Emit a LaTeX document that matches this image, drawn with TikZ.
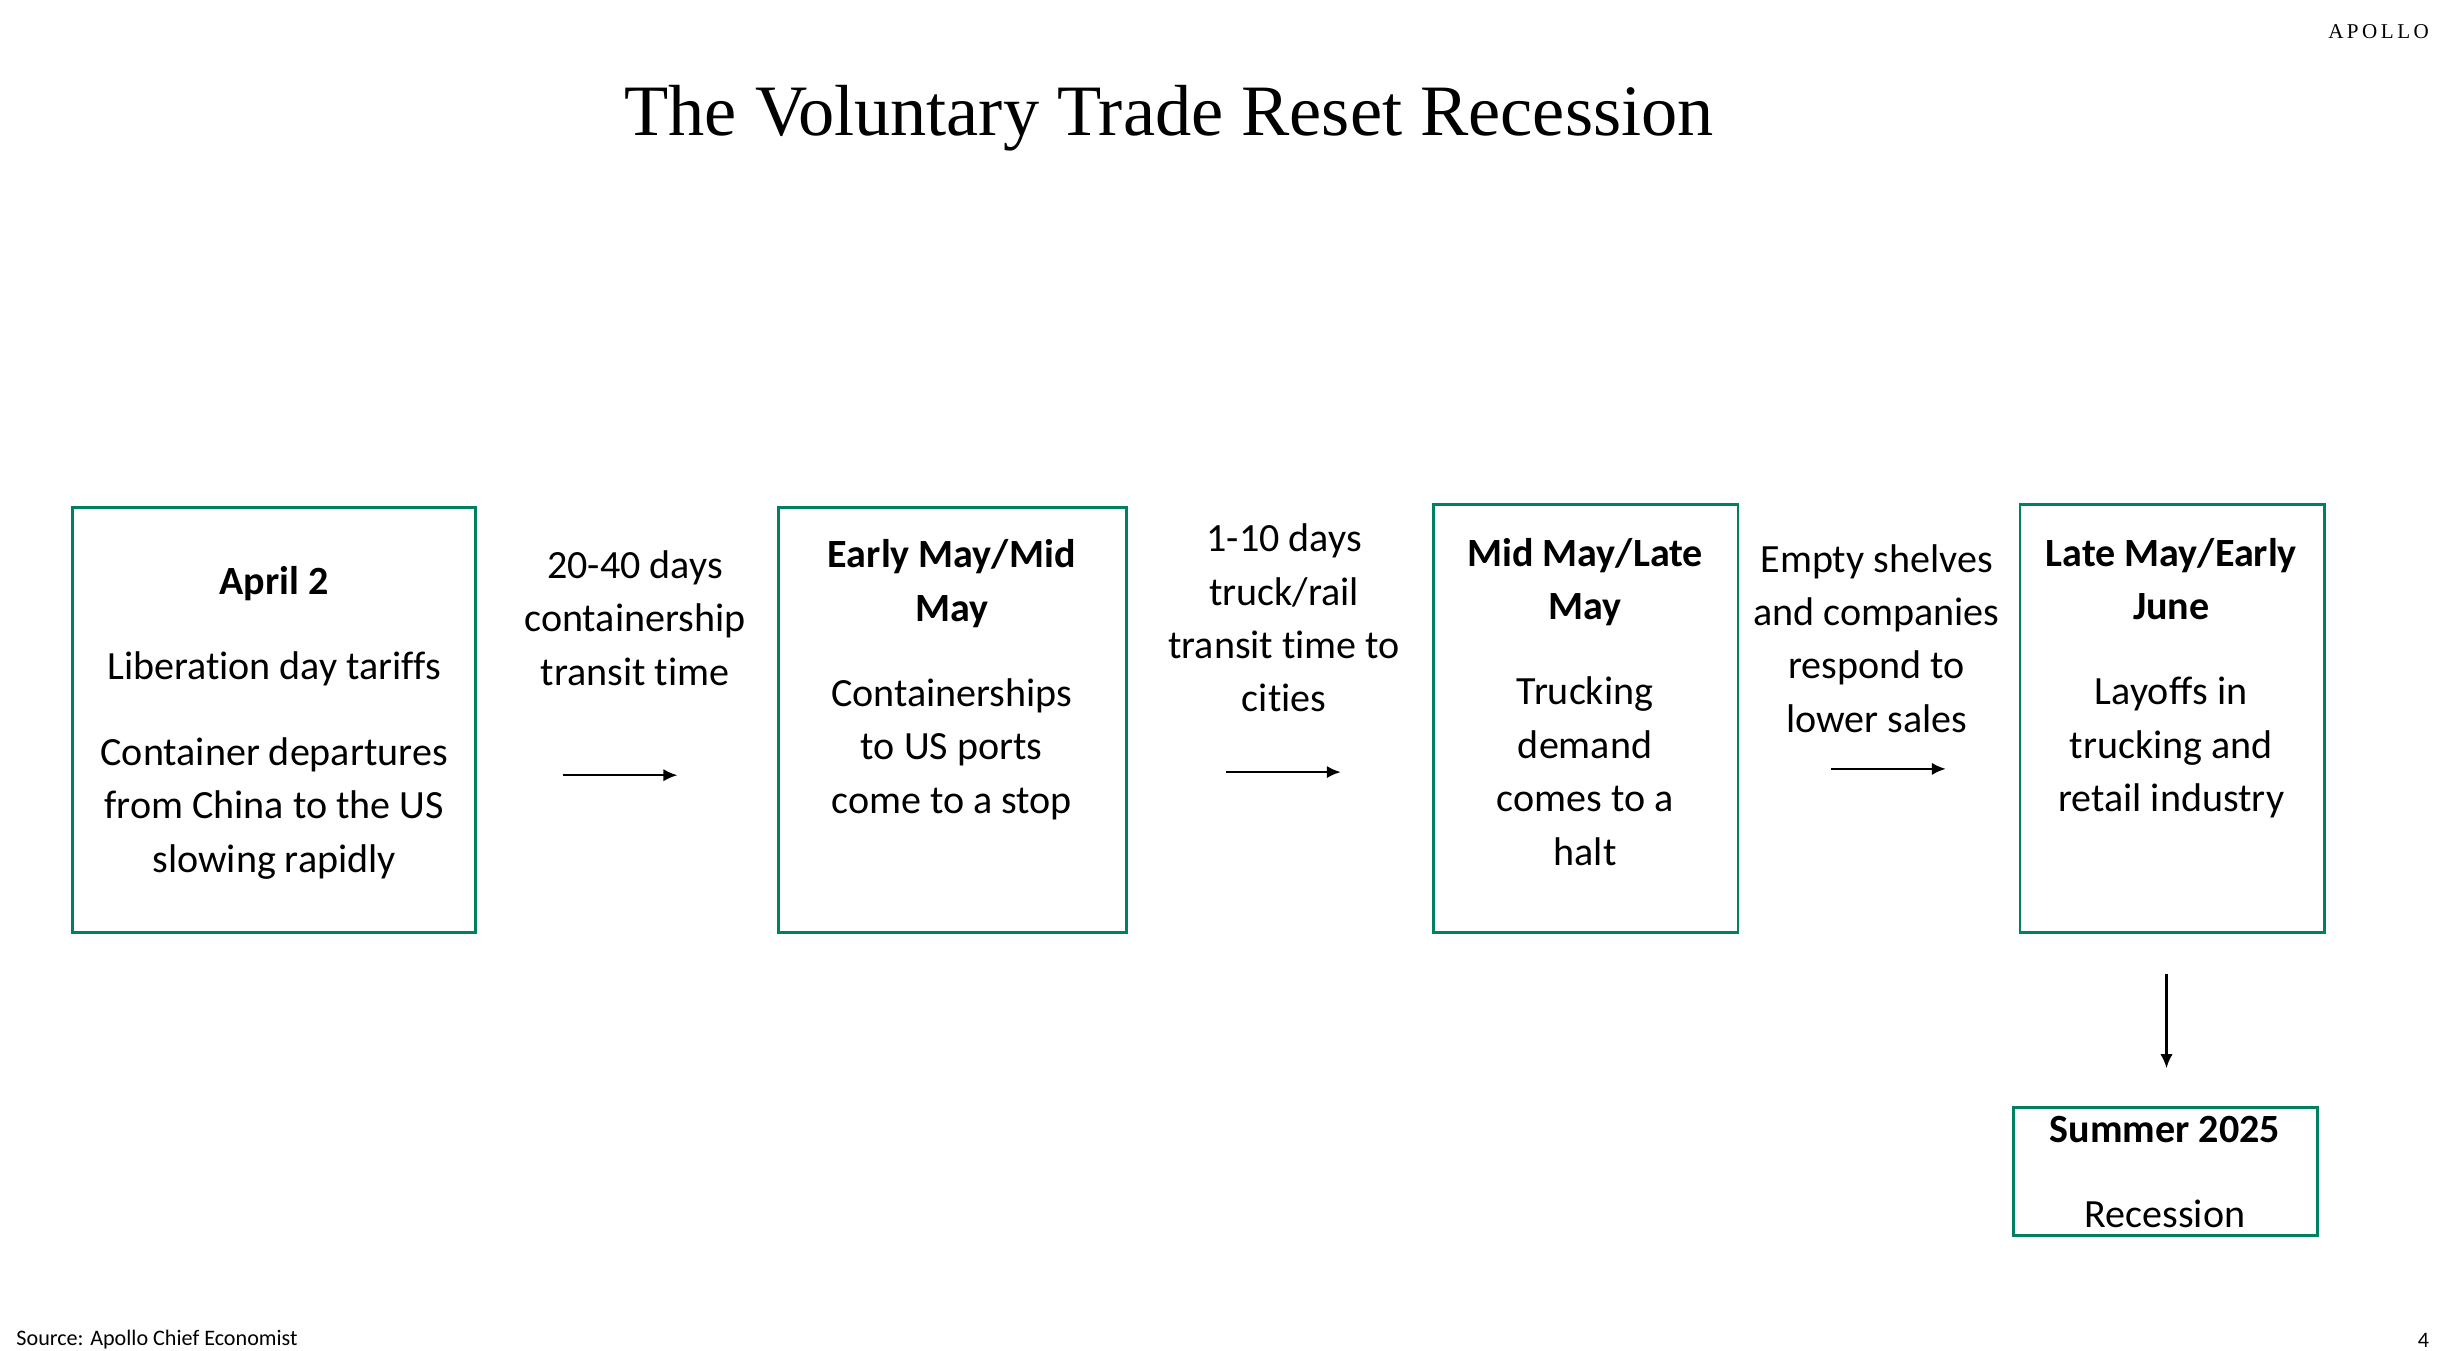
\documentclass[tikz,border=0pt]{standalone}
\usepackage{fontspec}
\setmainfont[RawFeature=-liga]{Carlito}
\newfontfamily\titlefont{Liberation Serif}
\usetikzlibrary{arrows.meta}
\definecolor{apgreen}{RGB}{0,128,96}

\begin{document}
\begin{tikzpicture}[x=0.01576cm,y=-0.01576cm,
  box/.style={draw=apgreen, line width=0.8pt},
  txt/.style={anchor=north, align=center, inner sep=0pt, font=\fontsize{11.4}{15.2}\selectfont},
  flow/.style={-{Latex[length=4pt,width=3.5pt]}, line width=0.7pt}]
\useasboundingbox (0,0) rectangle (1560,857);
\node[font=\titlefont\fontsize{20.6}{22}\selectfont] (title) at (742,75) {The Voluntary Trade Reset Recession};
\node[font=\titlefont\fontsize{6}{7}\selectfont, anchor=east, inner sep=0pt] (logo) at (1542,20) {A\,P\,O\,L\,L\,O};

% boxes
\draw[box] (46,322) rectangle (302,592);
\draw[box] (494,322) rectangle (715,592);
\draw[box] (910,320) rectangle (1103,592);
\draw[box] (1282,320) rectangle (1475,592);
\draw[box] (1278,703) rectangle (1471,784);

% box texts
\node[txt] (apr) at (174,359) {\textbf{April 2}\\[0.32cm] Liberation day tariffs\\[0.32cm] Container departures\\ from China to the US\\ slowing rapidly};
\node[txt] (may) at (604,342) {\textbf{Early May/Mid}\\ \textbf{May}\\[0.32cm] Containerships\\ to US ports\\ come to a stop};
\node[txt] (late) at (1006,341) {\textbf{Mid May/Late}\\ \textbf{May}\\[0.32cm] Trucking\\ demand\\ comes to a\\ halt};
\node[txt] (june) at (1378,341) {\textbf{Late May/Early}\\ \textbf{June}\\[0.32cm] Layoffs in\\ trucking and\\ retail industry};
\node[txt] (summer) at (1374,708) {\textbf{Summer 2025}\\[0.32cm] Recession};

% transit labels
\node[txt] (ship) at (403,349) {20-40 days\\ containership\\ transit time};
\node[txt] (truck) at (815,332) {1-10 days\\ truck/rail\\ transit time to\\ cities};
\node[txt] (shelf) at (1191,345) {Empty shelves\\ and companies\\ respond to\\ lower sales};

% arrows
\coordinate (a1) at (357,492); \coordinate (a2) at (430,492);
\coordinate (b1) at (778,490); \coordinate (b2) at (851,490);
\coordinate (c1) at (1162,488); \coordinate (c2) at (1235,488);
\coordinate (d1) at (1375,618); \coordinate (d2) at (1375,678);
\draw[flow] (a1) -- (a2);
\draw[flow] (b1) -- (b2);
\draw[flow] (c1) -- (c2);
\draw[flow] (d1) -- (d2);

\node[anchor=west, inner sep=0pt, font=\fontsize{6.3}{7}\selectfont] (src) at (10,850) {Source: Apollo Chief Economist};
\node[anchor=east, inner sep=0pt, font=\fontsize{6.3}{7}\selectfont] (page) at (1542,851) {4};
\end{tikzpicture}
\end{document}
